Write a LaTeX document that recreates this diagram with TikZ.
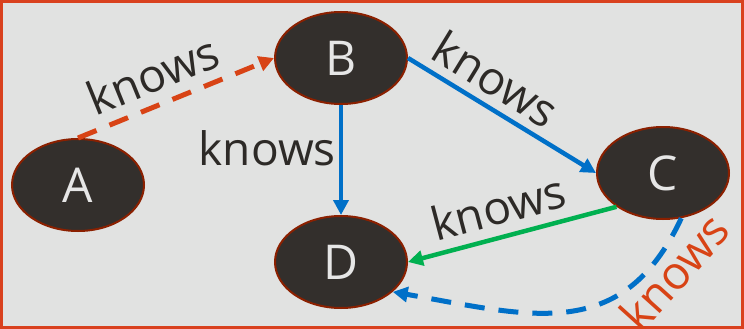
\documentclass[tikz,border=0pt]{standalone}
\usepackage{fontspec}
\setmainfont{Open Sans}
\usetikzlibrary{shapes.geometric,arrows.meta}
\definecolor{bg}{HTML}{E1E2E1}
\definecolor{frame}{HTML}{D9411E}
\definecolor{redline}{HTML}{D84315}
\definecolor{blueline}{HTML}{0070C8}
\definecolor{greenline}{HTML}{00B050}
\definecolor{nodefill}{HTML}{332F2C}
\definecolor{nodeline}{HTML}{8B2000}
\definecolor{nodetext}{HTML}{E6E6E6}
\definecolor{lbltext}{HTML}{2D2A27}
\begin{document}
\begin{tikzpicture}[x=1pt,y=-1pt,
  ent/.style={ellipse, draw=nodeline, line width=2pt, fill=nodefill, text=nodetext,
    minimum width=132pt, minimum height=92pt, inner sep=0pt,
    font=\fontsize{48}{50}\selectfont},
  lbl/.style={font=\fontsize{46}{50}\selectfont, text=lbltext, inner sep=3pt},
  tipx/.style={-{Triangle[length=15pt,width=15pt]}},
  dashx/.style={dash pattern=on 20pt off 14pt},
]
\useasboundingbox (0,0) rectangle (744,329);
\fill[bg] (0,0) rectangle (744,329);
\draw[frame, line width=3pt] (1.5,1.5) rectangle (742.5,327.5);

\node[ent] (A) at (78,185) {A};
\node[ent] (B) at (341,58) {B};
\node[ent] (C) at (663,173) {C};
\node[ent] (D) at (341,262) {D};

\draw[redline, line width=5pt, dashx, tipx] (A.north) -- (B.west)
  node[lbl, pos=0.44, sloped, above=7pt] (lab1) {knows};
\draw[blueline, line width=4.5pt, tipx] (B.east) -- (C.west)
  node[lbl, pos=0.39, sloped, above=5pt] (lab2) {knows};
\draw[blueline, line width=4.5pt, tipx] (B.south) -- (D.north)
  node[lbl, pos=0.39, left=0pt] (lab3) {knows};
\draw[greenline, line width=4.5pt, tipx] (C.216) -- (D.east)
  node[lbl, pos=0.53, sloped, above=7pt] (lab4) {knows};
\draw[blueline, line width=5pt, dashx, tipx] (C.292) to[out=-115, in=-10, looseness=1.2] (D.330);
\node[lbl, text=redline, rotate=48] (lab5) at (674,272) {knows};
\end{tikzpicture}
\end{document}
